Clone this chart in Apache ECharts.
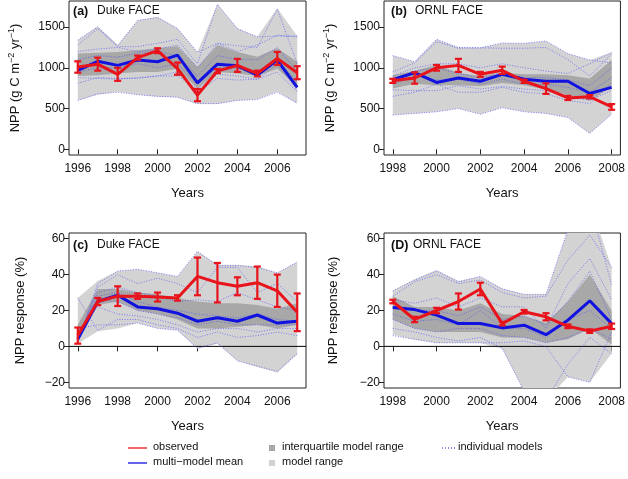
<!DOCTYPE html>
<html>
<head>
<meta charset="utf-8">
<script src="https://cdn.jsdelivr.net/npm/echarts@6/dist/echarts.min.js"></script>
<style>html,body{margin:0;padding:0;background:#fff}#c{width:628px;height:479px}</style>
</head>
<body>
<div id="c"></div>
<script>
// ---------- DATA ----------
const dukeYears = [1996,1997,1998,1999,2000,2001,2002,2003,2004,2005,2006,2007];
const ornlYears = [1998,1999,2000,2001,2002,2003,2004,2005,2006,2007,2008];
const dukeTicks = [1996,1998,2000,2002,2004,2006];
const ornlTicks = [1998,2000,2002,2004,2006,2008];
const nppTicks = [0,500,1000,1500];
const respTicks = [-20,0,20,40,60];

// (a) Duke NPP
const dukeNppObs    = [1010,1045,920,1125,1210,990,665,960,1030,930,1115,940];
const dukeNppObsErr = [70,80,80,25,30,75,75,25,80,35,80,80];
const dukeNppMean   = [970,1080,1030,1095,1075,1155,815,1045,1025,910,1095,760];
const dukeNppMin    = [600,670,705,670,645,635,555,555,600,610,705,560];
const dukeNppMax    = [1340,1510,1280,1585,1625,1485,1195,1780,1485,1380,1730,1390];
const dukeNppQ1     = [900,910,930,950,950,990,745,950,930,900,990,765];
const dukeNppQ3     = [1175,1185,1195,1215,1240,1265,1010,1280,1195,1135,1240,1075];
const dukeNppModels = [
  [1340,1500,1270,1580,1620,1480,1190,1300,1270,1250,1720,1050],
  [1280,1480,1260,1260,1300,1350,1050,1780,1480,1380,1390,1390],
  [1200,1230,1250,1200,1230,1280,1000,1300,1200,1280,1400,1380],
  [1100,1150,1130,1180,1200,1150,900,1150,1100,1100,1250,950],
  [950,1000,1000,1050,1000,1050,800,1000,1000,950,1100,820],
  [880,870,860,880,900,900,740,920,900,860,1050,720],
  [810,880,870,870,900,950,700,870,850,860,950,700],
  [600,680,700,670,650,640,560,560,600,610,700,570]
];

// (b) ORNL NPP
const ornlNppObs    = [840,875,1000,1030,920,970,835,745,630,645,520];
const ornlNppObsErr = [25,70,35,80,30,45,20,65,25,20,35];
const ornlNppMean   = [855,940,820,875,835,920,860,835,835,685,760];
const ornlNppMin    = [420,440,460,500,430,510,460,440,390,195,430];
const ornlNppMax    = [1150,1075,1350,1250,1245,1305,1300,1330,1175,1095,1190];
const ornlNppQ1     = [745,805,785,785,775,815,785,735,665,600,765];
const ornlNppQ3     = [910,965,1035,940,900,940,920,920,910,870,1095];
const ornlNppModels = [
  [1150,1075,1350,1250,1245,1305,1300,1330,1175,1095,1060],
  [950,1060,1320,1240,1245,1240,1240,1250,1100,900,1170],
  [900,1000,1050,1050,1000,1050,1000,960,930,1050,1190],
  [870,960,1000,930,870,940,880,880,850,780,1000],
  [800,900,850,860,800,860,800,800,760,700,880],
  [730,720,720,780,740,770,740,720,650,600,720],
  [650,700,800,700,700,760,700,680,600,560,820],
  [420,440,460,500,430,510,460,440,390,195,430]
];

// (c) Duke NPP response (%)
const dukeRespObs    = [6,25,28,28,27.5,27,39,35.5,33.5,35.5,31,19];
const dukeRespObsErr = [4.5,2,5.5,1.5,2.5,1.5,10.5,11,5,9,9,10.5];
const dukeRespMean   = [4,25,28.5,22,21,18.5,14,16,14,17.5,13,14];
const dukeRespMin    = [1.5,8.5,10,13,10,9,-1.3,1.5,-8,-11.5,-14.5,-4.5];
const dukeRespMax    = [27,36.5,42,43,41,39,53,45.5,45.5,44.5,41,47];
const dukeRespQ1     = [3,23,25,20,18,15,10,10,11,12,10,12];
const dukeRespQ3     = [12,32,32,30,29,27,25,24,24,23,21,24];
const dukeRespModels = [
  [2,35,42,43,41,39,53,45,45,44,41,47],
  [3,33,40,35,38,35,30,44,44,30,35,25],
  [4,30,33,30,28,25,26,25,30,26,22,20],
  [5,28,30,25,22,20,18,17,16,18,15,14],
  [6,26,25,20,18,16,12,14,12,12,12,12],
  [8,22,18,17,15,12,8,10,10,8,10,10],
  [10,12,12,13,10,9,-1,2,-8,-11,-14,-4],
  [27,9,15,15,12,10,5,8,5,6,8,6]
];

// (D) ORNL NPP response (%)
const ornlRespObs    = [25,15,20,25,32,12.7,19.3,16.5,11.2,8.5,11.2];
const ornlRespObsErr = [1,1.5,1.5,4.5,3.5,1,1,2,1,1,1.5];
const ornlRespMean   = [21.7,20.5,17.4,12.7,12.7,10.3,11.8,6.5,14.6,25.4,12.7];
const ornlRespMin    = [6.5,3.7,1.9,1.9,1.9,-1.3,-25,-30,-17,-20,-4];
const ornlRespMax    = [31,37.4,42.6,36.4,38.9,32.3,29,29,65,80,44];
const ornlRespQ1     = [15,10,8,8,8,5,5,2,4,10,1];
const ornlRespQ3     = [28,22,22,20,24,18,17,13,25,40,20];
const ornlRespModels = [
  [31,37,42,36,39,32,29,29,65,80,34],
  [28,36,40,35,37,30,27,28,48,62,44],
  [26,24,27,22,27,22,22,10,35,49,26],
  [22,20,20,17,22,15,17,12,25,42,15],
  [18,14,15,12,20,10,10,5,15,20,10],
  [15,10,8,10,10,6,5,2,5,10,4],
  [10,8,5,3,5,-1,-25,-30,-10,5,-4],
  [6,4,2,2,2,2,3,0,-17,-20,8]
];

// ---------- STYLE ----------
const FONT = 'Liberation Sans, Arial, Helvetica, sans-serif';
const RED = '#e8131b', BLUE = '#1212e0', LIGHT = '#d3d3d3', DARK = '#a8a8a8';
const MODEL = 'rgba(70,70,255,0.65)';

const panels = [
  {years: dukeYears, ticks: dukeTicks, yTicks: nppTicks, xmin:1995.56, xmax:2007.44, ymin:-70, ymax:1820,
   obs:dukeNppObs, err:dukeNppObsErr, mean:dukeNppMean, mn:dukeNppMin, mx:dukeNppMax, q1:dukeNppQ1, q3:dukeNppQ3, models:dukeNppModels, zero:false, npp:true},
  {years: ornlYears, ticks: ornlTicks, yTicks: nppTicks, xmin:1997.6, xmax:2008.4, ymin:-70, ymax:1820,
   obs:ornlNppObs, err:ornlNppObsErr, mean:ornlNppMean, mn:ornlNppMin, mx:ornlNppMax, q1:ornlNppQ1, q3:ornlNppQ3, models:ornlNppModels, zero:false, npp:true},
  {years: dukeYears, ticks: dukeTicks, yTicks: respTicks, xmin:1995.56, xmax:2007.44, ymin:-23.2, ymax:63.2,
   obs:dukeRespObs, err:dukeRespObsErr, mean:dukeRespMean, mn:dukeRespMin, mx:dukeRespMax, q1:dukeRespQ1, q3:dukeRespQ3, models:dukeRespModels, zero:true, npp:false},
  {years: ornlYears, ticks: ornlTicks, yTicks: respTicks, xmin:1997.6, xmax:2008.4, ymin:-23.2, ymax:63.2,
   obs:ornlRespObs, err:ornlRespObsErr, mean:ornlRespMean, mn:ornlRespMin, mx:ornlRespMax, q1:ornlRespQ1, q3:ornlRespQ3, models:ornlRespModels, zero:true, npp:false}
];

const grids = [
  {left:69, top:1, width:237, height:154},
  {left:384, top:1, width:238, height:154},
  {left:69, top:233, width:237, height:155},
  {left:384, top:233, width:238, height:155}
];

const option = {
  animation:false,
  backgroundColor:'#fff',
  grid: grids.map(g => Object.assign({show:true, borderColor:'#222', borderWidth:1, backgroundColor:'transparent', containLabel:false}, g)),
  xAxis: [], yAxis: [], series: [], graphic: []
};

const yName = '{n|NPP (g C m}{s|\u22122}{n| yr}{s|\u22121}{n|)}';
const yNameResp = 'NPP response (%)';

function bandSeries(i, years, lo, hi, color, z, name, zero) {
  return {
    type:'custom', name:name, xAxisIndex:i, yAxisIndex:i, silent:true, z:z, clip:true,
    data: years.map((y, k) => [y, lo[k], hi[k]]),
    encode:{x:0, y:[1,2]},
    renderItem: function(params, api) {
      if (params.dataIndex !== 0) return null;
      const n = params.dataInsideLength;
      const top = [], bot = [];
      for (let k = 0; k < n; k++) {
        const x = api.value(0, k);
        top.push(api.coord([x, api.value(2, k)]));
        bot.push(api.coord([x, api.value(1, k)]));
      }
      const pts = top.concat(bot.reverse());
      const cs = params.coordSys;
      const children = [{type:'polygon', shape:{points:pts}, style:{fill:color, stroke:null}}];
      if (zero) {
        const y0 = api.coord([api.value(0, 0), 0])[1];
        children.push({type:'line', shape:{x1:cs.x, y1:y0, x2:cs.x + cs.width, y2:y0}, style:{stroke:'#000', lineWidth:1}});
      }
      return {type:'group', clipPath:{type:'rect', shape:{x:cs.x, y:cs.y, width:cs.width, height:cs.height}}, children: children};
    }
  };
}

panels.forEach((p, i) => {
  option.xAxis.push({
    type:'value', gridIndex:i, min:p.xmin, max:p.xmax,
    name:'Years', nameLocation:'middle', nameGap:32,
    nameTextStyle:{fontFamily:FONT, fontSize:13, color:'#111'},
    axisLine:{show:false}, splitLine:{show:false},
    axisTick:{show:true, inside:false, length:5, customValues:p.ticks, lineStyle:{color:'#222'}},
    axisLabel:{show:true, customValues:p.ticks, margin:8, fontFamily:FONT, fontSize:12, color:'#111', formatter: v => String(v)}
  });
  option.yAxis.push({
    type:'value', gridIndex:i, min:p.ymin, max:p.ymax,
    name: p.npp ? yName : yNameResp, nameLocation:'middle', nameGap: p.npp ? 46 : (i===2 ? 42 : 44),
    nameTextStyle:{fontFamily:FONT, fontSize:13, color:'#111',
      rich:{n:{fontFamily:FONT, fontSize:13, color:'#111', lineHeight:16}, s:{fontFamily:FONT, fontSize:9, color:'#111', verticalAlign:'top', lineHeight:16}}},
    axisLine:{show:false}, splitLine:{show:false},
    axisTick:{show:true, inside:false, length:5, customValues:p.yTicks, lineStyle:{color:'#222'}},
    axisLabel:{show:true, customValues:p.yTicks, margin:4, fontFamily:FONT, fontSize:12, color:'#111',
      formatter: v => (v < 0 ? '\u2212' + Math.abs(v) : String(v))}
  });
  const pts = arr => p.years.map((y, k) => [y, arr[k]]);
  const base = {xAxisIndex:i, yAxisIndex:i, symbol:'none', silent:true, clip:true, animation:false};
  option.series.push(bandSeries(i, p.years, p.mn, p.mx, LIGHT, 1, 'model range', false));
  option.series.push(bandSeries(i, p.years, p.q1, p.q3, DARK, 2, 'interquartile model range', p.zero));
  p.models.forEach((m, k) => {
    option.series.push(Object.assign({}, base, {type:'line', name:'individual models', data:pts(m), lineStyle:{color:MODEL, width:1, type:[1,1.6]}, z:3}));
  });
  option.series.push(Object.assign({}, base, {type:'line', name:'multi-model mean', data:pts(p.mean), lineStyle:{color:BLUE, width:3}, z:4}));
  option.series.push(Object.assign({}, base, {type:'line', name:'observed', data:pts(p.obs), lineStyle:{color:RED, width:3}, z:5}));
  option.series.push({
    type:'custom', name:'observed error', xAxisIndex:i, yAxisIndex:i, silent:true, z:6,
    data: p.years.map((y, k) => [y, p.obs[k] - p.err[k], p.obs[k] + p.err[k]]),
    encode:{x:0, y:[1,2]},
    renderItem: function(params, api) {
      const x = api.value(0), lo = api.value(1), hi = api.value(2);
      const a = api.coord([x, lo]), b = api.coord([x, hi]);
      const w = 3.5;
      const st = {stroke:RED, lineWidth:2.2, fill:null};
      return {type:'group', children:[
        {type:'line', shape:{x1:a[0], y1:a[1], x2:b[0], y2:b[1]}, style:st},
        {type:'line', shape:{x1:a[0]-w, y1:a[1], x2:a[0]+w, y2:a[1]}, style:st},
        {type:'line', shape:{x1:b[0]-w, y1:b[1], x2:b[0]+w, y2:b[1]}, style:st}
      ]};
    }
  });
});

const titles = [
  {tag:'(a)', txt:'Duke FACE', x:73, y:12},
  {tag:'(b)', txt:'ORNL FACE', x:391, y:12},
  {tag:'(c)', txt:'Duke FACE', x:73, y:246},
  {tag:'(D)', txt:'ORNL FACE', x:391, y:246}
];
titles.forEach(t => {
  option.graphic.push({type:'text', left:t.x, top:t.y-7, z:100, silent:true,
    style:{text:t.tag, fontFamily:FONT, fontSize:12.5, fontWeight:'bold', fill:'#111'}});
  option.graphic.push({type:'text', left:t.x + (t.tag === '(D)' ? 22 : 24), top:t.y-7, z:100, silent:true,
    style:{text:t.txt, fontFamily:FONT, fontSize:12, fill:'#111'}});
});

const L1 = 448, L2 = 463;
option.graphic.push(
  {type:'line', shape:{x1:128, y1:L1, x2:147, y2:L1}, style:{stroke:RED, lineWidth:1.3}, silent:true},
  {type:'text', left:153, top:L1-7, style:{text:'observed', fontFamily:FONT, fontSize:11, fill:'#111'}, silent:true},
  {type:'line', shape:{x1:128, y1:L2, x2:147, y2:L2}, style:{stroke:BLUE, lineWidth:1.3}, silent:true},
  {type:'text', left:153, top:L2-7, style:{text:'multi\u2212model mean', fontFamily:FONT, fontSize:11, fill:'#111'}, silent:true},
  {type:'rect', shape:{x:269, y:L1-3, width:6, height:6}, style:{fill:DARK}, silent:true},
  {type:'text', left:282, top:L1-7, style:{text:'interquartile model range', fontFamily:FONT, fontSize:11, fill:'#111'}, silent:true},
  {type:'rect', shape:{x:269, y:L2-3, width:6, height:6}, style:{fill:LIGHT}, silent:true},
  {type:'text', left:282, top:L2-7, style:{text:'model range', fontFamily:FONT, fontSize:11, fill:'#111'}, silent:true},
  {type:'line', shape:{x1:442, y1:L1, x2:455, y2:L1}, style:{stroke:BLUE, lineWidth:1, lineDash:[1,2]}, silent:true},
  {type:'text', left:458, top:L1-7, style:{text:'individual models', fontFamily:FONT, fontSize:11, fill:'#111'}, silent:true}
);

const chart = echarts.init(document.getElementById('c'), null, {renderer:'canvas'});
chart.setOption(option);
</script>
</body>
</html>
